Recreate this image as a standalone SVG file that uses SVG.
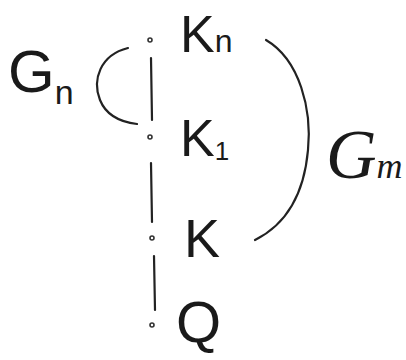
<svg xmlns="http://www.w3.org/2000/svg" width="406" height="360" viewBox="0 0 406 360">
<style>
.t{font-family:"Liberation Sans","DejaVu Sans",sans-serif;fill:#1a1a1a}
.s{font-family:"Liberation Serif","DejaVu Serif",serif;font-style:italic;fill:#1a1a1a}
.c{fill:none;stroke:#222;stroke-width:2.2;stroke-linecap:round}
.d{fill:#fff;stroke:#333;stroke-width:1.6}
</style>
<rect width="406" height="360" fill="#fff"/>
<g id="connectors">
<path class="c" d="M151 58 L152 120"/>
<path class="c" d="M151 163 L152 222"/>
<path class="c" d="M154 256 L155 310"/>
<path id="bracket-left" class="c" d="M128 48 C100 55 92 80 100 100 C106 115 120 122 137 124"/>
<path id="bracket-right" class="c" d="M266 40 C300 60 312 110 308 150 C304 195 285 225 255 240"/>
</g>
<g id="node-Kn">
<circle class="d" cx="150" cy="40" r="2"/>
<text class="t" x="180" y="52" font-size="52">K<tspan font-size="32" dy="0">n</tspan></text>
</g>
<g id="node-K1">
<circle class="d" cx="150" cy="137" r="2"/>
<text class="t" x="180" y="156" font-size="52">K<tspan font-size="26" dy="4">1</tspan></text>
</g>
<g id="node-K">
<circle class="d" cx="152" cy="238" r="2"/>
<text class="t" x="184" y="257" font-size="54">K</text>
</g>
<g id="node-Q">
<circle class="d" cx="152" cy="325" r="2"/>
<text class="t" x="176" y="342" font-size="58">Q</text>
</g>
<g id="label-Gn">
<text class="t" x="8" y="92" font-size="60">G<tspan font-size="34" dy="12">n</tspan></text>
</g>
<g id="label-Gm">
<text class="s" x="326" y="178" font-size="70">G<tspan font-size="36" dy="0">m</tspan></text>
</g>
</svg>
